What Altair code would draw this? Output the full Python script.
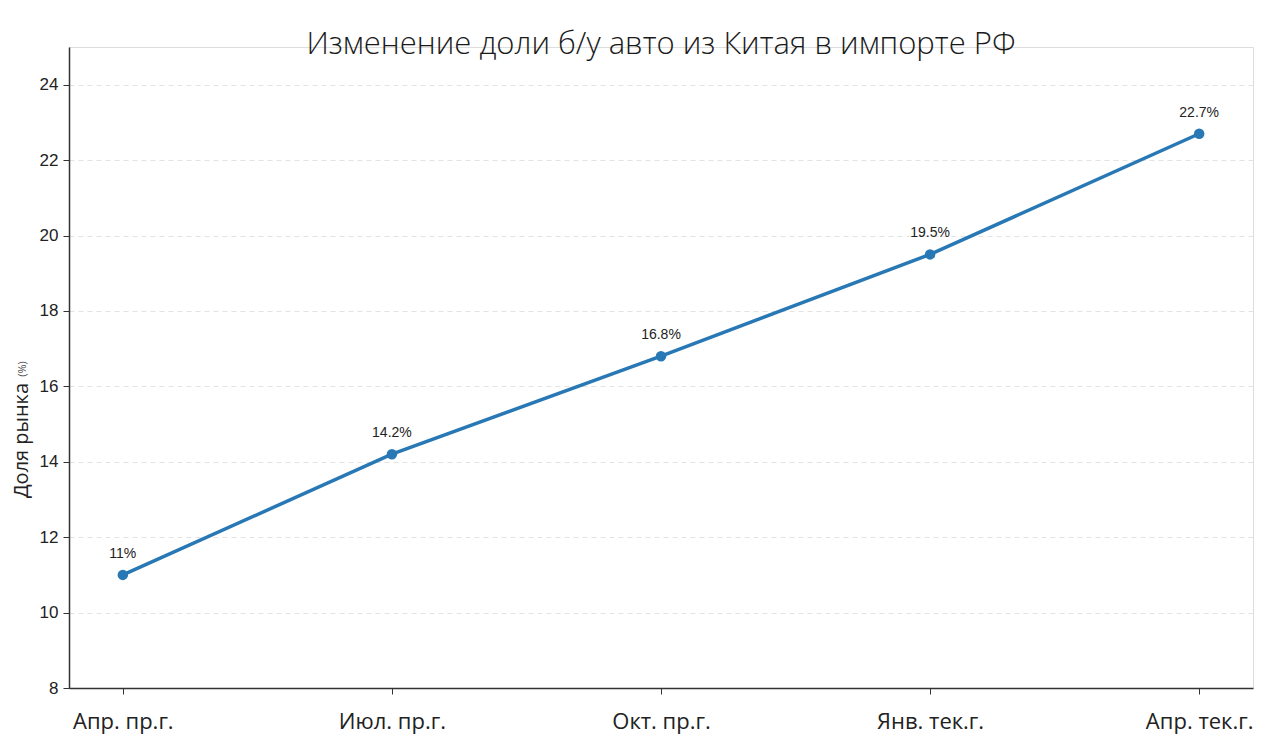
import altair as alt
import pandas as pd

periods = ["Апр. пр.г.", "Июл. пр.г.", "Окт. пр.г.", "Янв. тек.г.", "Апр. тек.г."]
share = [11.0, 14.2, 16.8, 19.5, 22.7]
labels = ["11%", "14.2%", "16.8%", "19.5%", "22.7%"]
y_ticks = [8, 10, 12, 14, 16, 18, 20, 22, 24]

df = pd.DataFrame({"period": periods, "share": share, "label": labels})

line_color = "#2878b5"

x_enc = alt.X(
    "period:N",
    sort=periods,
    title=None,
    scale=alt.Scale(type="point", padding=0.2),
    axis=alt.Axis(
        labelAngle=0,
        labelFont="Open Sans",
        labelFontSize=22,
        labelFontWeight="normal",
        labelColor="#222222",
        labelPadding=17,
        tickSize=6,
        tickColor="#333333",
        domainColor="#333333",
        domainWidth=1.5,
        grid=False,
    ),
)
y_enc = alt.Y(
    "share:Q",
    scale=alt.Scale(domain=[8, 25], nice=False, zero=False),
    axis=alt.Axis(
        values=y_ticks,
        title="Доля рынка",
        titleFont="Open Sans",
        titleFontSize=20,
        titleFontWeight="normal",
        titleColor="#222222",
        titleAngle=270,
        titleBaseline="alphabetic",
        titleAlign="center",
        titleX=-42,
        titleY=393,
        labelFont="Liberation Sans",
        labelFontSize=17,
        labelColor="#222222",
        labelPadding=5,
        tickSize=6,
        tickColor="#333333",
        domainColor="#333333",
        domainWidth=1.5,
        grid=True,
        gridColor="#e3e3e3",
        gridDash=[5, 4],
        gridWidth=1,
    ),
)

base = alt.Chart(df).encode(x=x_enc, y=y_enc)

line = base.mark_line(color=line_color, strokeWidth=3.5)
points = base.mark_circle(color=line_color, size=110, opacity=1)
text = base.mark_text(
    dy=-21,
    font="Liberation Sans",
    fontSize=14,
    color="#222222",
).encode(text="label:N")

unit = (
    alt.Chart(pd.DataFrame({"t": ["(%)"]}))
    .mark_text(
        angle=270,
        font="Open Sans",
        fontSize=11,
        color="#444444",
        baseline="alphabetic",
        align="center",
    )
    .encode(text="t:N", x=alt.value(-43), y=alt.value(322))
)

chart = (
    alt.layer(line, points, text, unit)
    .properties(
        width=1184,
        height=641,
        autosize=alt.AutoSizeParams(type="none"),
        padding={"left": 61, "top": 39, "right": 4, "bottom": 56},
        title=alt.TitleParams(
            "Изменение доли б/у авто из Китая в импорте РФ",
            font="Open Sans",
            fontSize=31,
            fontWeight=300,
            color="#1a1a1a",
            anchor="middle",
            baseline="alphabetic",
            offset=-5,
            dy=33,
        ),
    )
    .configure_view(stroke=None)
    .configure(background="white")
)

chart.save("out.html", embed_options={"renderer": "svg", "actions": False})
